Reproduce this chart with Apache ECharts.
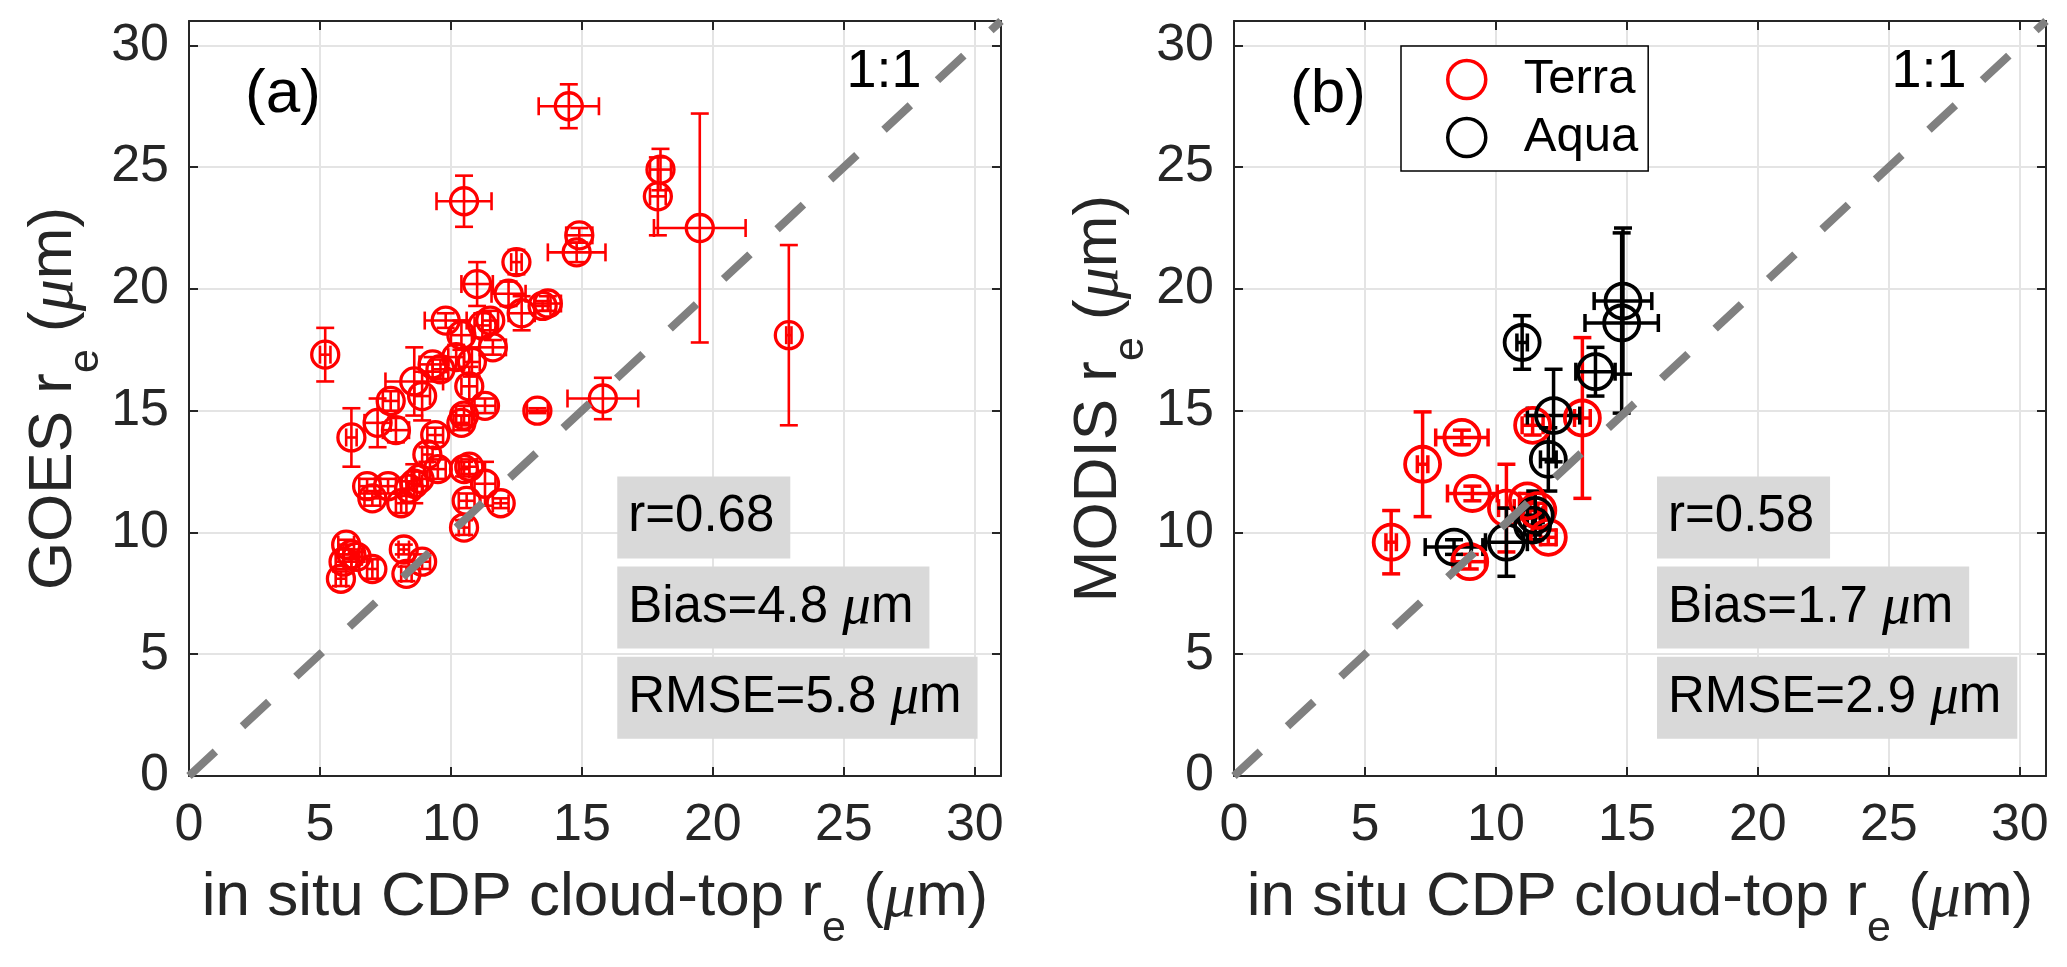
<!DOCTYPE html>
<html>
<head>
<meta charset="utf-8">
<script src="https://cdn.jsdelivr.net/npm/echarts@6.0.0/dist/echarts.min.js"></script>
<style>
html,body{margin:0;padding:0;background:#fff;}
#chart{width:2067px;height:967px;}
</style>
</head>
<body>
<div id="chart"></div>
<script>
// ---------------- data ----------------
// Panel (a): GOES vs in situ CDP
const goesX = [14.5, 10.5, 18.0, 17.9, 19.5, 22.9, 14.9, 14.8, 12.5, 11.0, 12.2, 12.7, 13.7, 13.5, 5.2, 9.8, 10.4, 11.2, 11.5, 11.6, 10.2, 10.8, 9.3, 9.6, 8.6, 8.9, 10.7, 11.3, 10.5, 10.4, 13.3, 15.8, 7.7, 7.2, 6.2, 7.9, 9.4, 9.1, 9.5, 10.7, 10.5, 11.3, 10.6, 11.9, 10.5, 6.8, 7.0, 7.6, 8.1, 8.6, 8.8, 8.4, 6.0, 6.2, 5.9, 5.8, 6.4, 7.0, 8.2, 8.9, 8.3];
const goesY = [27.5, 23.6, 24.9, 23.8, 22.5, 18.1, 22.2, 21.5, 21.1, 20.2, 19.8, 19.0, 19.4, 19.3, 17.3, 18.7, 18.1, 18.5, 18.7, 17.6, 17.2, 17.0, 16.9, 16.7, 16.2, 15.6, 16.0, 15.2, 14.8, 14.5, 15.0, 15.5, 15.4, 14.5, 13.9, 14.2, 14.0, 13.2, 12.6, 12.7, 12.6, 12.0, 11.3, 11.2, 10.2, 11.9, 11.4, 11.9, 11.2, 12.0, 12.2, 11.8, 9.5, 9.1, 8.8, 8.1, 9.0, 8.5, 9.3, 8.8, 8.3];
const goesXErr = [1.15, 1.05, 0.4, 0.3, 1.75, 0.1, 0.5, 1.1, 0.2, 0.6, 0.65, 0.5, 0.5, 0.3, 0.2, 0.8, 0.4, 0.3, 0.3, 0.5, 0.3, 0.3, 0.5, 0.3, 1.1, 0.3, 0.3, 0.4, 0.3, 0.3, 0.4, 1.35, 0.3, 0.5, 0.2, 0.5, 0.3, 0.2, 0.3, 0.3, 0.2, 0.4, 0.3, 0.3, 0.2, 0.3, 0.3, 0.3, 0.2, 0.3, 0.3, 0.3, 0.3, 0.3, 0.3, 0.2, 0.2, 0.2, 0.2, 0.3, 0.2];
const goesYErr = [0.9, 1.05, 0.85, 1.6, 4.7, 3.7, 0.3, 0.4, 0.5, 0.9, 0.5, 0.7, 0.3, 0.2, 1.1, 0.3, 0.6, 0.5, 0.4, 0.3, 0.5, 0.6, 0.3, 0.4, 1.4, 1.0, 0.8, 0.3, 0.4, 0.3, 0.1, 0.85, 0.4, 1.0, 1.2, 0.5, 0.3, 0.3, 0.4, 0.3, 0.3, 0.9, 0.3, 0.2, 0.3, 0.3, 0.3, 0.3, 0.4, 0.8, 0.3, 0.3, 0.2, 0.2, 0.3, 0.3, 0.2, 0.4, 0.2, 0.3, 0.3];

// Panel (b): MODIS vs in situ CDP
const terraX = [7.2, 8.7, 9.1, 6.0, 9.0, 10.4, 11.2, 12.0, 11.4, 13.3, 11.6];
const terraY = [12.8, 13.9, 11.6, 9.6, 8.8, 11.0, 11.3, 9.8, 14.4, 14.7, 10.9];
const terraXErr = [0.2, 1.0, 0.95, 0.2, 0.6, 0.3, 0.3, 0.3, 0.4, 0.3, 0.3];
const terraYErr = [2.15, 0.3, 0.3, 1.3, 0.3, 1.8, 0.3, 0.3, 0.4, 3.3, 0.3];

const aquaX = [14.85, 14.8, 11.0, 13.8, 12.2, 12.0, 11.5, 11.4, 10.4, 8.4];
const aquaY = [19.5, 18.6, 17.8, 16.6, 14.8, 13.0, 10.7, 10.3, 9.6, 9.4];
const aquaXErr = [1.1, 1.4, 0.2, 0.75, 1.0, 0.3, 0.3, 0.3, 0.8, 1.1];
const aquaYErr = [3.0, 3.7, 1.1, 1.0, 1.9, 1.3, 1.0, 0.4, 1.4, 0.3];

// 1:1 reference line
const oneToOne = [[0, 0], [31, 31]];

// axis setup and texts
const axisMin = 0, axisMax = 31, tickStep = 5;
const panelLabels = ['(a)', '(b)'];
const xTitle = '{n|in situ CDP cloud-top r}{s|e}{n| (}{u|μ}{n|m)}';
const yTitles = ['{n|GOES r}{s|e}{n| (}{u|μ}{n|m)}', '{n|MODIS r}{s|e}{n| (}{u|μ}{n|m)}'];
const statsA = ['r=0.68', 'Bias=4.8 {m|μ}m', 'RMSE=5.8 {m|μ}m'];
const statsB = ['r=0.58', 'Bias=1.7 {m|μ}m', 'RMSE=2.9 {m|μ}m'];
const legendNames = ['Terra', 'Aqua'];

// ---------------- styling ----------------
const FONT = "'Liberation Sans', Arial, Helvetica, sans-serif";
const SERIF = "'Liberation Serif', 'DejaVu Serif', serif";
const AX = '#262626';
const RED = '#ff0000';
const BLK = '#000000';

const nameRich = {
  n: {fontSize: 62, fontFamily: FONT, color: AX, lineHeight: 62, verticalAlign: 'top'},
  s: {fontSize: 43, fontFamily: FONT, color: AX, lineHeight: 43, verticalAlign: 'top', padding: [41, 0, 0, 0]},
  u: {fontSize: 64, fontFamily: SERIF, fontStyle: 'italic', color: AX, lineHeight: 62, verticalAlign: 'top'}
};

const grids = [
  {left: 189, top: 21, width: 812, height: 755},
  {left: 1234, top: 21, width: 812, height: 755}
];

function labelFmt(v) { return (v % tickStep === 0) ? String(v) : ''; }

function mainAxis(dim, gi, name) {
  const isX = dim === 'x';
  return {
    type: 'value', gridIndex: gi, min: axisMin, max: axisMax, interval: tickStep,
    position: isX ? 'bottom' : 'left',
    name: name, nameLocation: 'middle', nameGap: isX ? 91 : 94,
    nameTextStyle: {rich: nameRich},
    axisLine: {show: true, onZero: false, lineStyle: {color: AX, width: 2}},
    axisTick: {show: true, inside: true, length: 9, lineStyle: {color: AX, width: 2}},
    axisLabel: {fontSize: 52, fontFamily: FONT, color: AX, margin: isX ? 24 : 20, formatter: labelFmt},
    splitLine: {show: true, lineStyle: {color: '#e4e4e4', width: 2}}
  };
}
function boxAxis(dim, gi) {
  const isX = dim === 'x';
  return {
    type: 'value', gridIndex: gi, min: axisMin, max: axisMax, interval: tickStep,
    position: isX ? 'top' : 'right',
    axisLine: {show: true, onZero: false, lineStyle: {color: AX, width: 2}},
    axisTick: {show: true, inside: true, length: 9, lineStyle: {color: AX, width: 2}},
    axisLabel: {show: false},
    splitLine: {show: false}
  };
}

function errRender(color, lw, cap) {
  return function (params, api) {
    const x = api.value(0), y = api.value(1), ex = api.value(2), ey = api.value(3);
    const L = api.coord([x - ex, y]), R = api.coord([x + ex, y]);
    const T = api.coord([x, y + ey]), B = api.coord([x, y - ey]);
    const ln = (x1, y1, x2, y2) => ({type: 'line', shape: {x1, y1, x2, y2}, style: {stroke: color, lineWidth: lw, fill: null}});
    return {type: 'group', children: [
      ln(L[0], L[1], R[0], R[1]), ln(L[0], L[1] - cap, L[0], L[1] + cap), ln(R[0], R[1] - cap, R[0], R[1] + cap),
      ln(T[0], T[1], B[0], B[1]), ln(T[0] - cap, T[1], T[0] + cap, T[1]), ln(B[0] - cap, B[1], B[0] + cap, B[1])
    ]};
  };
}
function zip4(a, b, c, d) { return a.map((v, i) => [v, b[i], c[i], d[i]]); }
function zip2(a, b) { return a.map((v, i) => [v, b[i]]); }

function errSeries(name, xi, yi, data, color, lw, cap) {
  return {type: 'custom', name: name + ' err', xAxisIndex: xi, yAxisIndex: yi, data: data,
    encode: {x: 0, y: 1}, renderItem: errRender(color, lw, cap), z: 2, silent: true, clip: true};
}
function ptSeries(name, xi, yi, data, color, size, bw, z) {
  return {type: 'scatter', name: name, xAxisIndex: xi, yAxisIndex: yi, data: data,
    symbol: 'circle', symbolSize: size, z: z, silent: true,
    itemStyle: {color: 'rgba(0,0,0,0)', borderColor: color, borderWidth: bw, opacity: 1}};
}
function refLine(xi, yi) {
  return {type: 'line', xAxisIndex: xi, yAxisIndex: yi, data: oneToOne, showSymbol: false, symbol: 'none',
    silent: true, z: 10, clip: true,
    lineStyle: {color: '#808080', width: 8, type: [36, 37]}};
}

const chart = echarts.init(document.getElementById('chart'), null, {renderer: 'canvas'});

const option = {
  animation: false,
  backgroundColor: '#ffffff',
  textStyle: {fontFamily: FONT},
  grid: grids,
  xAxis: [mainAxis('x', 0, xTitle), boxAxis('x', 0), mainAxis('x', 1, xTitle), boxAxis('x', 1)],
  yAxis: [mainAxis('y', 0, yTitles[0]), boxAxis('y', 0), mainAxis('y', 1, yTitles[1]), boxAxis('y', 1)],
  legend: {
    data: [
      {name: legendNames[0], icon: 'circle', itemStyle: {color: 'rgba(0,0,0,0)', borderColor: RED, borderWidth: 3.5}},
      {name: legendNames[1], icon: 'circle', itemStyle: {color: 'rgba(0,0,0,0)', borderColor: BLK, borderWidth: 3.5}}
    ],
    orient: 'vertical', left: 1401, top: 46,
    itemWidth: 100, itemHeight: 38, itemGap: 9,
    padding: [9, 10, 9, 45],
    borderColor: '#000', borderWidth: 1.5, backgroundColor: '#fff',
    textStyle: {fontSize: 49, fontFamily: FONT, color: '#000', padding: [0, 0, 0, 2]},
    selectedMode: false
  },
  series: [
    errSeries('GOES', 0, 0, zip4(goesX, goesY, goesXErr, goesYErr), RED, 2.6, 9),
    ptSeries('GOES', 0, 0, zip2(goesX, goesY), RED, 27, 3.3, 3),
    refLine(0, 0),
    errSeries(legendNames[0], 2, 2, zip4(terraX, terraY, terraXErr, terraYErr), RED, 3.5, 9),
    ptSeries(legendNames[0], 2, 2, zip2(terraX, terraY), RED, 35, 3.8, 3),
    errSeries(legendNames[1], 2, 2, zip4(aquaX, aquaY, aquaXErr, aquaYErr), BLK, 3.5, 9),
    ptSeries(legendNames[1], 2, 2, zip2(aquaX, aquaY), BLK, 35, 3.8, 4),
    refLine(2, 2)
  ]
};
chart.setOption(option);

// ---------- annotations placed through the axes' own scales ----------
function toPx(panel, x, y) {
  return chart.convertToPixel({xAxisIndex: panel * 2, yAxisIndex: panel * 2}, [x, y]);
}
const statRich = {m: {fontFamily: SERIF, fontStyle: 'italic', fontSize: 57, lineHeight: 48, fill: '#000', color: '#000'}};
const statTops = [12.3, 8.6, 4.9];
const statLeft = [16.35, 16.15];
const graphics = [];
[statsA, statsB].forEach((lines, p) => {
  lines.forEach((t, i) => {
    const pt = toPx(p, statLeft[p], statTops[i]);
    graphics.push({type: 'text', x: pt[0], y: pt[1], z: 20, silent: true,
      style: {text: t, fontSize: 51, fontFamily: FONT, fill: '#000', lineHeight: 48,
        backgroundColor: '#d9d9d9', padding: [17, 16, 17, 11], align: 'left', verticalAlign: 'top', rich: statRich}});
  });
  const lp = toPx(p, 2.14, 27.98);
  graphics.push({type: 'text', x: lp[0], y: lp[1], z: 20, silent: true,
    style: {text: panelLabels[p], fontSize: 62, fontFamily: FONT, fill: '#000', align: 'left', verticalAlign: 'middle'}});
  const op = toPx(p, 25.1, 28.9);
  graphics.push({type: 'text', x: op[0], y: op[1], z: 20, silent: true,
    style: {text: '1:1', fontSize: 54, fontFamily: FONT, fill: '#000', align: 'left', verticalAlign: 'middle'}});
});
chart.setOption({graphic: graphics});
</script>
</body>
</html>
